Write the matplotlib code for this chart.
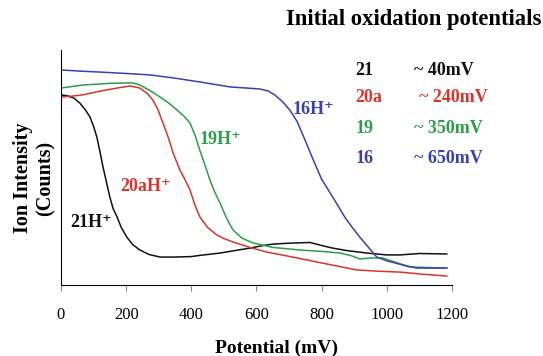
import matplotlib
matplotlib.use("Agg")
import matplotlib.pyplot as plt

# series values (potential in mV, relative intensity)
x_21 = [0, 20, 40, 58, 75, 89, 100, 110, 120, 129, 140, 150, 160, 172, 185, 202, 220, 242, 270, 304,
        350, 400, 426, 488, 540, 580, 620, 650, 700, 764, 800, 834, 880, 939, 1000, 1040, 1100, 1184]
y_21 = [80.9, 80.5, 79.5, 77.4, 74.5, 71.5, 67.5, 63, 56.5, 50.2, 43.5, 37.4, 32.5, 29, 24.5, 20.4, 17.2, 14.9, 13, 11.9,
        11.9, 12.1, 12.6, 13.6, 14.8, 15.7, 16.8, 17.4, 17.8, 18.1, 16.8, 15.7, 14.6, 13.6, 12.8, 12.8, 13.4, 13.2]

x_20a = [0, 30, 67, 120, 172, 212, 242, 265, 282, 298, 313, 330, 344, 365, 380, 396, 410, 426, 450, 478,
         500, 528, 580, 632, 700, 785, 850, 908, 970, 1040, 1110, 1184]
y_20a = [80, 80.3, 80.9, 82.5, 83.8, 84.7, 83.8, 81.5, 78.7, 74.5, 68.9, 62.5, 56.2, 48.9, 45, 40.4, 34.5, 29, 24.5, 21.3,
         19.8, 18.3, 16, 14, 12.2, 9.8, 8, 6.4, 5.9, 5.5, 4.6, 3.8]

x_19 = [0, 67, 150, 221, 242, 270, 304, 330, 356, 380, 396, 412, 426, 442, 457, 472, 488, 508, 528, 555,
        589, 650, 733, 800, 856, 890, 917, 950, 988, 1030, 1071, 1184]
y_19 = [83.8, 85.1, 85.8, 86, 85.1, 83, 80, 77.5, 74.5, 71.5, 68.9, 63.5, 57.4, 51, 44.7, 39.5, 34.9, 28.5, 23.4, 20,
        17.9, 16, 14.9, 14.3, 13.6, 12.5, 11.1, 11.5, 11.5, 9.5, 7.7, 7.2]

x_16 = [0, 60, 120, 200, 273, 350, 426, 518, 610, 635, 656, 680, 702, 725, 748, 775, 800, 834, 871, 895,
        917, 945, 969, 1000, 1025, 1060, 1092, 1184]
y_16 = [91.5, 91, 90.6, 90, 89.4, 88, 86.4, 84.3, 83.4, 82.6, 80.9, 78, 74.5, 69.5, 62, 53, 45, 37.4, 28.9, 24.3,
        20.4, 15.8, 11.9, 10.3, 9.4, 8.1, 7.2, 7.2]

compounds = ["21", "20a", "19", "16"]
potentials = ["~ 40mV", "~ 240mV", "~ 350mV", "~ 650mV"]
xticks = [0, 200, 400, 600, 800, 1000, 1200]

plt.rcParams['font.family'] = ['Liberation Serif', 'DejaVu Serif']

c_black = '#111111'
c_red = '#d8352c'
c_green = '#2b9e48'
c_blue = '#3d3fae'

fig = plt.figure(figsize=(5.43, 3.56), dpi=100)
ax = fig.add_axes([0.1123, 0.1994, 0.7201, 0.6602])

ax.plot(x_21, y_21, color=c_black, lw=1.1)
ax.plot(x_20a, y_20a, color=c_red, lw=1.1)
ax.plot(x_19, y_19, color=c_green, lw=1.1)
ax.plot(x_16, y_16, color=c_blue, lw=1.1)

ax.set_xlim(0, 1200)
ax.set_ylim(0, 100)
ax.set_xticks(xticks)
ax.set_xticklabels([str(t) for t in xticks], fontsize=12)
ax.tick_params(axis='x', direction='out', length=4, pad=12, color='#888888')
ax.set_yticks([])
ax.spines['top'].set_visible(False)
ax.spines['right'].set_visible(False)
ax.spines['left'].set_color('black')
ax.spines['bottom'].set_color('black')

ax.set_xlabel("Potential (mV)", fontsize=14, fontweight='bold')
ax.xaxis.set_label_coords(0.552, -0.232)
ax.set_ylabel("Ion Intensity\n(Counts)", fontsize=14.5, fontweight='bold')
ax.yaxis.set_label_coords(-0.014, 0.455)

# curve labels
ax.text(28, 26.5, "21H⁺", color=c_black, fontsize=13, fontweight='bold', va='center')
ax.text(181, 42, "20aH⁺", color=c_red, fontsize=13, fontweight='bold', va='center')
ax.text(426, 62, "19H⁺", color=c_green, fontsize=13, fontweight='bold', va='center')
ax.text(712, 74.5, "16H⁺", color=c_blue, fontsize=13, fontweight='bold', va='center')

# legend-like text block
fig.text(0.997, 0.944, "Initial oxidation potentials", fontsize=16.3, fontweight='bold',
         ha='right', va='center')
colors = [c_black, c_red, c_green, c_blue]
rows_y = [0.803, 0.725, 0.640, 0.556]
for name, pot, col, yy in zip(compounds, potentials, colors, rows_y):
    fig.text(0.654, yy, name, color=col, fontsize=13, fontweight='bold', va='center')
    fig.text(0.762 if name != "20a" else 0.771, yy, pot, color=col, fontsize=13,
             fontweight='bold', va='center')

fig.savefig("out.png", dpi=100)
